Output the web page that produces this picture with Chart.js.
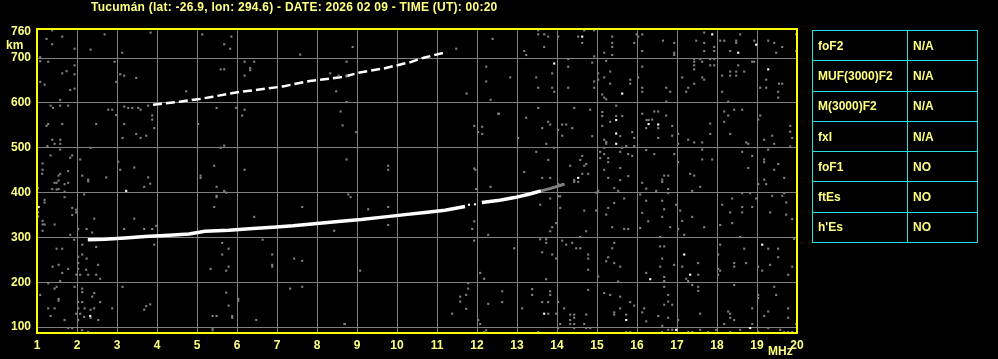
<!DOCTYPE html>
<html>
<head>
<meta charset="utf-8">
<script src="https://cdn.jsdelivr.net/npm/chart.js@4/dist/chart.umd.min.js"></script>
<style>
  body { margin: 0; background: #000; width: 998px; height: 359px; overflow: hidden; position: relative; }
  #chart { position: absolute; left: 0; top: 0; }
  .lbl { position: absolute; color: #ffff80; font: bold 12px "Liberation Sans", Arial, sans-serif; line-height: 14px; white-space: nowrap; }
  #params { position: absolute; left: 812px; top: 30px; width: 166px; border-collapse: collapse; }
  #params td { border: 1px solid #20e0e0; height: 29.3px; padding: 0 0 0 5px; color: #ffff80; font: bold 12px "Liberation Sans", Arial, sans-serif; }
  #params td:first-child { width: 89px; }
</style>
</head>
<body>
<canvas id="chart" width="998" height="359"></canvas>
<div class="lbl" style="left:91px;top:0px;letter-spacing:0.25px">Tucumán (lat: -26.9, lon: 294.6) - DATE: 2026 02 09 - TIME (UT): 00:20</div>
<div class="lbl" style="left:6px;top:38px">km</div>
<div class="lbl" style="left:768px;top:344px">MHz</div>
<table id="params"></table>
<script>
// axis ticks
const freqTicks = [1,2,3,4,5,6,7,8,9,10,11,12,13,14,15,16,17,18,19,20];
const heightTicks = [100,200,300,400,500,600,700,760];

// parameter table
const paramNames = ['foF2','MUF(3000)F2','M(3000)F2','fxI','foF1','ftEs',"h'Es"];
const paramValues = ['N/A','N/A','N/A','N/A','NO','NO','NO'];

// F trace (first hop), null = gap in the echo
const traceF = [2.27,2.7,3.2,3.7,4.3,4.8,5.2,5.8,6.4,6.9,7.4,8.0,8.6,9.1,9.7,10.2,10.7,11.2,11.7,null,12.12,12.57,12.94,13.32,13.6];
const traceH = [295,296,299,302,305,308,314,316,320,323,326,331,336,340,346,351,356,361,369,null,378,383,389,397,404];
// faint tail above the white trace
const tailF = [13.6,13.82,14.19];
const tailH = [404,409,419];
// second hop
const hop2F = [3.9,4.57,5.07,5.4,5.94,6.74,7.15,7.82,8.65,9.07,9.67,10.33,10.67,11.17,11.25];
const hop2H = [596,603,609,614,623,632,637,649,658,668,677,691,701,712,713];

// isolated white echoes
const noiseWhite = [[3.23,404],[2.33,125],[1.04,368],[11.8,373],[11.95,374],
  [14.63,748],[13.93,688],[15.63,621],[15.48,562],[16.29,553],[15.48,532],[15.48,509],[14.53,433],[16.33,207],[13.68,130],[15.73,116],
  [17.88,753],[18.98,730],[18.53,712],[19.28,675],[16.53,552],[19.13,284],[17.18,262],[17.33,217],[18.83,98],[16.98,94]];

// gray noise
const noiseGray = [
  [1.38,762],[1.63,748],[1.24,743],[1.38,731],[2.69,753],[3.84,757],[1.94,721],[2.34,719],[3.13,712],[1.08,702],[1.08,693],[1.28,692],[2.94,692],
  [1.94,684],[1.74,671],[1.63,666],[1.94,664],[3.08,664],[3.18,661],[3.48,656],[2.98,647],[1.08,647],[1.19,641],[1.94,632],[1.83,629],[1.58,607],
  [4.73,626],[1.34,594],[1.58,594],[1.78,594],[1.40,589],[2.78,585],[2.88,585],[2.98,573],[3.18,592],[3.28,589],[3.38,589],[3.53,589],[3.59,585],
  [3.78,594],[3.88,572],[3.88,563],[3.93,544],[1.28,553],[1.24,549],[1.63,553],[2.48,553],[3.18,553],[3.14,522],[3.48,531],[3.59,522],[3.73,527],
  [1.38,518],[1.58,518],[1.58,509],[1.44,509],[1.26,504],[2.34,500],[1.58,496],[1.34,483],[1.83,478],[1.88,483],[2.08,474],[1.14,465],[1.14,451],
  [1.13,442],[1.78,448],[1.58,442],[1.54,438],[2.13,438],[2.28,429],[2.28,425],[2.73,434],[3.03,469],[3.08,451],[3.43,456],[3.78,434],[3.83,420],
  [3.68,413],[1.44,422],[1.49,422],[1.54,427],[1.69,419],[1.78,422],[1.38,408],[1.49,407],[1.54,408],[1.69,402],[1.69,390],[1.02,410],[2.18,396],
  [1.19,384],[1.19,378],[1.88,366],[1.98,362],[1.98,356],[1.88,350],[1.03,356],[1.03,347],[1.14,337],[1.14,329],[1.19,329],[1.14,315],[1.44,329],
  [1.83,306],[2.03,319],[2.24,319],[2.38,311],[2.43,342],[3.18,319],[3.43,342],[3.68,319],[3.88,319],[3.98,326],[3.93,284],[1.93,295],[2.13,284],
  [2.48,279],[1.49,275],[1.63,275],[2.03,257],[2.13,262],[2.24,253],[2.03,243],[2.03,230],[2.23,228],[2.53,239],[1.54,239],[1.39,235],[1.78,230],
  [1.63,221],[1.98,217],[2.08,217],[2.28,217],[2.48,217],[2.58,208],[1.28,198],[1.58,203],[1.49,190],[1.44,186],[1.94,190],[2.13,186],[2.13,178],
  [2.43,176],[2.38,168],[1.08,172],[1.54,163],[1.54,159],[2.03,156],[2.13,156],[2.58,156],[2.43,142],[2.34,139],[2.19,142],[2.03,142],[1.28,142],
  [1.44,142],[2.88,142],[3.68,139],[3.73,147],[3.83,151],[3.14,190],[2.08,130],[1.98,130],[1.34,125],[2.18,123],[2.34,121],[2.53,116],[1.69,116],
  [2.03,116],[1.78,98],[1.88,98],[2.13,93],[2.28,89],[1.0,113],
  [5.13,753],[5.86,748],[5.68,731],[5.83,721],[7.58,708],[6.19,692],[6.43,692],[5.59,675],[5.68,675],[6.33,678],[6.33,673],[6.19,661],[8.33,666],
  [8.54,661],[8.48,626],[5.49,589],[5.98,589],[6.19,585],[6.13,572],[8.59,581],[8.64,550],[5.03,553],[5.68,505],[5.59,500],[5.43,460],[5.09,438],
  [5.09,433],[6.19,451],[5.49,413],[5.68,404],[5.73,400],[5.49,393],[5.49,390],[5.43,368],[6.43,346],[7.63,368],[5.63,288],[5.79,275],[5.63,262],
  [6.88,262],[7.43,253],[7.63,248],[5.79,235],[5.73,226],[5.34,230],[6.88,239],[6.88,235],[6.64,295],[5.73,177],[7.33,186],[7.63,190],[5.79,148],
  [6.03,163],[6.03,159],[5.88,125],[5.88,121],[5.39,125],[5.49,125],[6.48,116],[5.39,98],[5.39,93],[8.69,107],[8.43,315],
  [8.89,725],[12.39,743],[11.48,721],[8.74,692],[8.74,661],[12.23,681],[12.23,648],[11.74,621],[12.34,607],[8.74,602],[12.53,576],[11.93,549],
  [12.13,547],[12.13,531],[12.03,535],[8.98,535],[8.74,474],[9.78,460],[9.78,451],[11.93,454],[11.96,451],[12.34,413],[11.98,408],[8.78,396],
  [8.84,390],[9.28,363],[9.78,368],[9.78,328],[11.93,336],[11.88,319],[12.28,306],[11.93,293],[9.08,226],[12.08,221],[12.18,208],[11.78,198],
  [11.78,186],[11.73,172],[11.58,168],[11.58,157],[11.73,141],[11.38,130],[12.28,152],[12.03,116],[12.08,107],[8.69,107],[12.23,93],[12.18,89],
  [13.53,762],[14.68,762],[14.93,762],[13.53,753],[13.68,753],[15.99,753],[16.13,753],[13.78,748],[14.03,748],[14.53,748],[15.38,748],[16.03,748],
  [14.63,734],[15.38,734],[15.93,734],[13.68,725],[15.38,725],[13.18,716],[16.13,716],[15.18,712],[13.23,707],[15.38,707],[14.93,704],[14.28,698],
  [15.23,694],[14.88,690],[14.28,681],[16.13,681],[15.33,670],[13.88,666],[15.03,666],[12.83,657],[13.48,657],[15.18,657],[15.03,652],[16.03,657],
  [15.83,652],[14.93,648],[15.33,643],[15.83,643],[13.53,634],[13.88,634],[14.28,634],[14.93,634],[16.13,634],[13.93,625],[16.13,625],[15.13,619],
  [15.18,612],[15.23,608],[15.48,594],[13.53,589],[14.43,589],[14.83,585],[15.13,580],[12.55,576],[16.13,576],[15.13,571],[15.48,571],[15.63,571],
  [13.23,567],[16.24,562],[16.29,562],[13.78,558],[15.33,558],[13.83,552],[14.13,552],[14.23,552],[15.13,549],[14.38,544],[13.63,544],[16.23,544],
  [14.03,540],[15.88,535],[14.13,527],[14.88,526],[15.58,526],[13.03,522],[15.93,522],[15.18,518],[15.23,513],[13.73,509],[15.23,509],[15.73,504],
  [15.93,504],[13.93,500],[15.18,500],[15.63,500],[16.23,495],[13.48,491],[15.08,491],[15.58,491],[15.18,486],[15.78,486],[14.63,482],[15.88,482],
  [15.08,477],[15.28,477],[13.78,473],[14.58,473],[15.28,468],[14.73,464],[14.33,460],[14.68,460],[15.58,455],[15.18,451],[13.18,446],[14.78,442],
  [14.63,442],[15.78,437],[13.63,433],[13.83,433],[15.28,433],[14.43,428],[15.58,428],[14.43,424],[14.53,424],[16.13,422],[14.13,419],[14.03,419],
  [14.08,415],[15.43,410],[16.23,409],[15.03,404],[15.53,404],[14.98,400],[16.08,396],[14.03,392],[14.08,392],[13.83,387],[15.68,387],[16.23,382],
  [15.43,377],[13.58,373],[14.08,366],[15.28,366],[14.68,360],[14.98,360],[16.13,355],[15.23,351],[16.28,336],[13.98,332],[13.88,323],[15.38,323],
  [16.08,321],[15.68,319],[15.78,319],[13.83,314],[14.73,314],[14.58,301],[13.58,296],[13.73,296],[14.13,293],[13.73,288],[14.38,288],[15.43,288],
  [14.23,284],[12.93,276],[14.48,276],[14.58,276],[15.38,276],[13.63,267],[13.88,262],[14.78,262],[15.28,256],[13.98,253],[14.78,253],[15.23,247],
  [15.43,243],[15.58,235],[14.78,228],[16.23,221],[15.03,213],[13.73,207],[15.53,202],[13.38,185],[14.78,183],[12.63,180],[13.83,180],[15.18,176],
  [13.38,172],[13.83,172],[15.33,172],[15.58,168],[12.63,156],[13.63,156],[13.78,156],[14.03,156],[15.83,156],[15.93,148],[13.13,142],[14.18,142],
  [15.58,142],[16.18,142],[15.43,133],[16.13,133],[13.78,130],[13.98,130],[14.33,128],[14.43,128],[14.73,128],[15.43,128],[15.73,128],[14.43,121],
  [14.33,116],[16.23,113],[14.08,107],[14.33,107],[14.43,107],[14.68,107],[14.03,98],[14.43,98],[14.73,98],[14.83,98],[13.53,89],[15.83,89],[15.73,89],
  [17.68,757],[18.58,753],[19.98,753],[16.65,739],[17.48,739],[18.08,739],[18.18,739],[18.48,739],[18.93,739],[19.28,739],[16.93,734],[17.68,734],
  [18.48,734],[19.43,734],[17.93,725],[19.63,725],[17.68,716],[17.93,716],[18.33,716],[19.98,716],[16.93,712],[19.48,712],[16.93,707],[17.43,698],
  [17.58,698],[17.83,698],[17.93,698],[17.43,692],[17.63,692],[18.88,692],[18.93,692],[17.43,684],[17.83,684],[17.93,684],[18.53,684],[17.43,675],
  [18.33,670],[18.48,670],[18.68,670],[18.13,661],[18.33,661],[18.48,661],[17.63,657],[17.13,657],[17.68,652],[19.23,652],[17.43,643],[19.63,643],
  [19.55,643],[16.73,634],[17.28,634],[19.08,634],[19.23,634],[17.23,625],[16.83,625],[18.13,625],[19.53,625],[19.53,612],[16.73,603],[18.28,603],
  [18.43,585],[18.63,585],[16.43,581],[16.53,581],[18.18,581],[16.73,572],[18.28,572],[19.08,572],[16.38,563],[19.03,563],[18.18,558],[17.83,554],
  [16.88,549],[19.83,549],[16.53,544],[19.83,536],[17.03,531],[17.83,531],[18.33,531],[16.88,527],[19.38,527],[16.53,522],[19.88,522],[17.28,518],
  [19.18,518],[17.43,512],[17.63,512],[18.73,512],[18.78,509],[17.03,509],[19.43,509],[19.83,503],[17.63,496],[19.28,496],[18.63,491],[16.43,486],
  [16.93,486],[18.88,482],[17.63,474],[17.88,474],[19.18,474],[17.03,468],[19.18,468],[19.53,464],[18.78,455],[19.43,451],[17.33,442],[16.68,438],
  [16.78,438],[17.43,438],[19.68,433],[16.63,429],[19.18,429],[16.63,424],[19.23,419],[19.03,419],[17.58,413],[16.78,408],[16.48,404],[17.38,404],
  [16.78,399],[18.63,399],[18.83,399],[19.68,399],[19.38,393],[19.63,393],[18.38,387],[18.98,387],[16.63,382],[19.73,378],[16.98,373],[18.13,373],
  [18.63,368],[18.88,368],[16.68,363],[17.08,360],[19.33,356],[18.33,356],[18.63,356],[19.73,351],[16.63,346],[17.38,346],[19.88,341],[17.13,337],
  [18.38,332],[18.08,328],[16.83,323],[17.68,323],[17.03,319],[17.18,306],[16.58,301],[18.58,301],[19.93,297],[18.08,284],[16.58,280],[16.68,280],
  [18.68,275],[19.28,275],[19.53,275],[18.03,262],[19.53,256],[16.63,253],[17.53,243],[18.43,243],[18.73,243],[16.93,239],[19.33,239],[16.58,235],
  [17.13,235],[18.43,235],[19.03,235],[19.88,235],[18.03,230],[18.08,226],[19.13,226],[17.53,217],[18.03,217],[19.78,217],[16.68,212],[17.23,208],
  [16.68,203],[17.28,203],[17.38,194],[18.43,194],[16.68,190],[17.53,190],[19.43,190],[17.53,181],[16.78,172],[19.48,172],[19.03,172],[19.03,165],
  [16.78,157],[16.68,150],[16.88,150],[18.88,142],[19.78,142],[18.28,135],[19.28,135],[17.58,130],[18.33,130],[16.53,125],[19.18,125],[16.78,121],
  [18.33,121],[19.78,121],[17.03,116],[18.43,116],[18.18,107],[18.88,107],[19.98,107],[16.63,103],[19.28,98],[16.78,94],[16.88,94],[17.58,94],
  [17.98,94],[18.58,94],[19.58,94],[16.63,89],[17.28,89],[17.38,89],[17.78,89],[18.33,89],[19.03,89],[19.68,89],[19.78,89],[19.88,89]
];

const YELLOW = '#ffff80';
const FRAME = '#ffff00';
const GRID = '#808080';
const tickFont = { family: 'Liberation Sans, Arial, sans-serif', size: 12, weight: 'bold' };

const toPts = (xs, ys) => xs.map((x, i) => (x === null ? { x: null, y: null } : { x, y: ys[i] }));
const pairs = arr => arr.map(p => ({ x: p[0], y: p[1] }));

const framePlugin = {
  id: 'frame',
  afterDraw(chart) {
    const { ctx, chartArea: a } = chart;
    ctx.save();
    ctx.strokeStyle = FRAME;
    ctx.lineWidth = 2;
    ctx.strokeRect(a.left, a.top, a.right - a.left, a.bottom - a.top);
    ctx.restore();
  }
};

new Chart(document.getElementById('chart'), {
  type: 'scatter',
  data: {
    datasets: [
      { data: pairs(noiseGray), pointStyle: 'rect', pointRadius: 1.5, backgroundColor: GRID, borderWidth: 0 },
      { data: toPts(tailF, tailH), showLine: true, borderColor: GRID, borderWidth: 3, pointRadius: 0 },
      { data: toPts(hop2F, hop2H), showLine: true, borderColor: '#ffffff', borderWidth: 2.5, borderDash: [9, 4], pointRadius: 0, spanGaps: false },
      { data: toPts(traceF, traceH), showLine: true, borderColor: '#ffffff', borderWidth: 3.5, pointRadius: 0, spanGaps: false },
      { data: pairs(noiseWhite), pointStyle: 'rect', pointRadius: 1.5, backgroundColor: '#ffffff', borderWidth: 0 }
    ]
  },
  options: {
    responsive: false,
    animation: false,
    devicePixelRatio: 1,
    layout: { padding: { left: 0, right: 201, top: 29, bottom: 0 } },
    plugins: { legend: { display: false }, tooltip: { enabled: false } },
    scales: {
      x: {
        type: 'linear', min: 1, max: 20,
        afterBuildTicks: s => { s.ticks = freqTicks.map(v => ({ value: v })); },
        afterFit: s => { s.height = 26; },
        ticks: { color: YELLOW, font: tickFont, padding: 5, maxRotation: 0, autoSkip: false },
        grid: { color: GRID, lineWidth: 1, drawTicks: false },
        border: { display: false }
      },
      y: {
        type: 'linear', min: 87, max: 765,
        afterBuildTicks: s => { s.ticks = heightTicks.map(v => ({ value: v })); },
        afterFit: s => { s.width = 37; },
        ticks: { color: YELLOW, font: tickFont, padding: 6, autoSkip: false },
        grid: { color: c => (c.tick && c.tick.value === 760 ? 'rgba(0,0,0,0)' : GRID), lineWidth: 1, drawTicks: false },
        border: { display: false }
      }
    }
  },
  plugins: [framePlugin]
});

const table = document.getElementById('params');
paramNames.forEach((name, i) => {
  const row = document.createElement('tr');
  row.innerHTML = `<td>${name}</td><td>${paramValues[i]}</td>`;
  table.appendChild(row);
});
</script>
</body>
</html>
